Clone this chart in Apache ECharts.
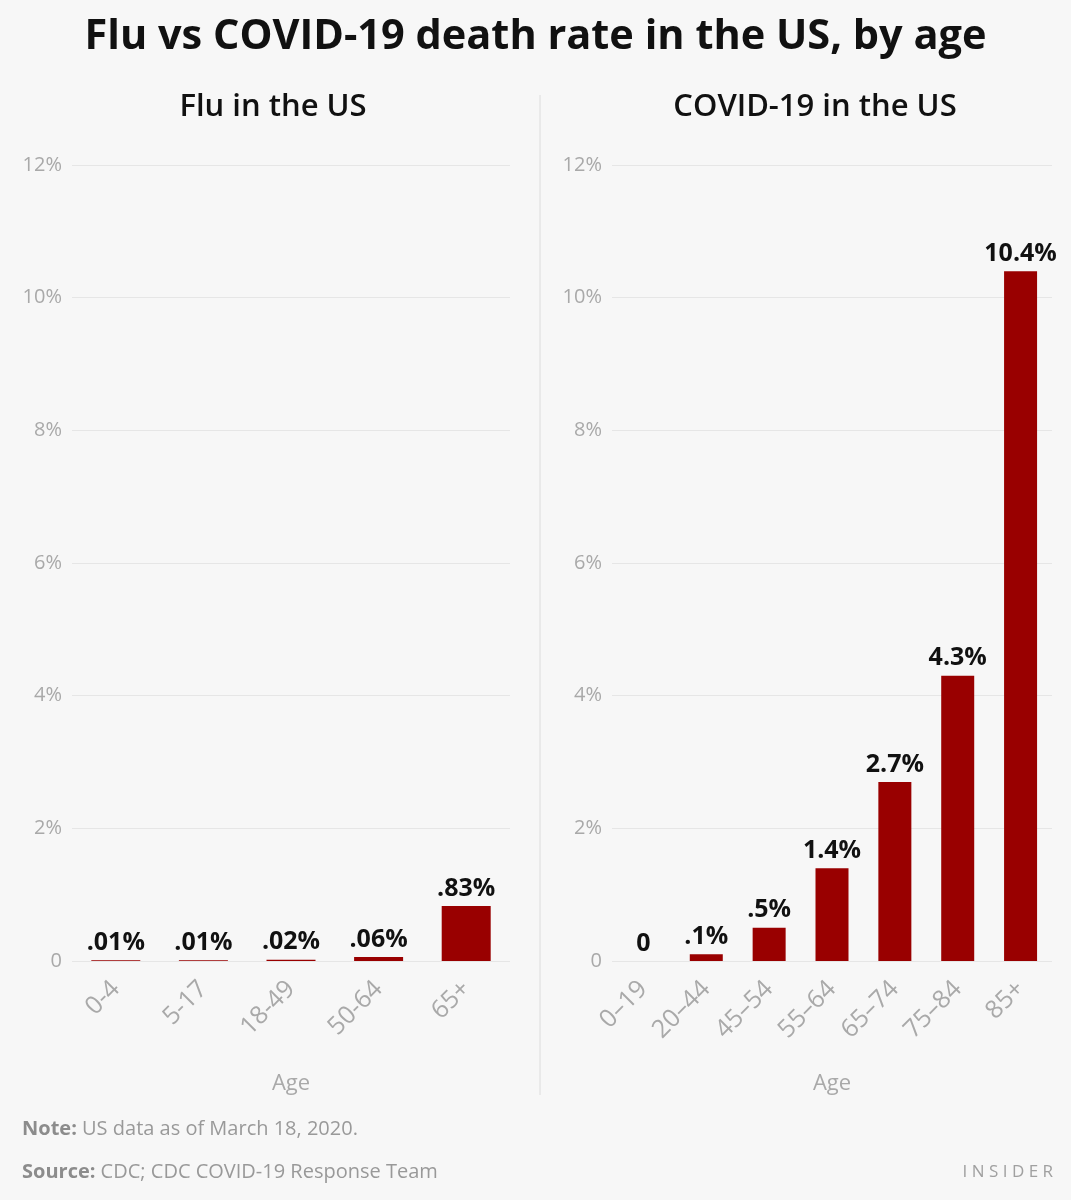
<!doctype html>
<html>
<head>
	<meta charset="utf-8">
	<style>
		html, body { margin: 0; padding: 0; background: #f7f7f7; }
		#chart { width: 1071px; height: 1200px; }
	</style>
</head>
<body>
	<div id="chart"></div>
</body>
<script src="https://cdn.jsdelivr.net/npm/echarts@6/dist/echarts.min.js"></script>
<script type="text/javascript">
	// data
	var fluAges = ['0-4', '5-17', '18-49', '50-64', '65+'];
	var fluRates = [0.01, 0.01, 0.02, 0.06, 0.83];
	var covidAges = ['0\u201319', '20\u201344', '45\u201354', '55\u201364', '65\u201374', '75\u201384', '85+'];
	var covidRates = [0, 0.1, 0.5, 1.4, 2.7, 4.3, 10.4];
	var yTicks = [0, 2, 4, 6, 8, 10, 12];

	var gray = '#a9a9a9';
	var barRed = '#990000';
	var font = '"Open Sans", Roboto, sans-serif';

	function pctLabel(p) {
		var v = p.value;
		if (v === 0) return '0';
		var s = String(v);
		if (v < 1) s = s.replace(/^0/, '');
		return s + '%';
	}

	function yAxisOf(idx) {
		return {
			gridIndex: idx,
			type: 'value',
			min: yTicks[0],
			max: yTicks[yTicks.length - 1],
			interval: 2,
			axisLine: { show: false },
			axisTick: { show: false },
			splitLine: { lineStyle: { color: '#e6e6e6', width: 1 } },
			axisLabel: {
				color: gray,
				fontFamily: font,
				fontSize: 20,
				margin: 10,
				formatter: function(v) { return v === 0 ? '0' : v + '%'; }
			}
		};
	}

	function xAxisOf(idx, cats) {
		return {
			gridIndex: idx,
			type: 'category',
			data: cats,
			axisLine: { show: false },
			axisTick: { show: false },
			axisLabel: {
				color: gray,
				fontFamily: font,
				fontSize: 25,
				rotate: 45,
				margin: 24,
				interval: 0
			},
			name: 'Age',
			nameLocation: 'middle',
			nameGap: 112,
			nameTextStyle: { color: gray, fontFamily: font, fontSize: 22 }
		};
	}

	function barSeries(idx, values, width) {
		return {
			type: 'bar',
			xAxisIndex: idx,
			yAxisIndex: idx,
			data: values,
			barWidth: width,
			itemStyle: { color: barRed },
			label: {
				show: true,
				position: 'top',
				distance: 5,
				color: '#111',
				fontFamily: font,
				fontWeight: 'bold',
				fontSize: 25,
				formatter: pctLabel
			}
		};
	}

	var myChart = echarts.init(document.getElementById('chart'));
	var option = {
		backgroundColor: '#f7f7f7',
		animation: false,
		title: [
			{
				text: 'Flu vs COVID-19 death rate in the US, by age',
				left: 'center',
				top: 11,
				textStyle: { color: '#111', fontFamily: font, fontWeight: 'bold', fontSize: 41.5 }
			},
			{
				text: 'Flu in the US',
				left: 268,
				top: 87,
				textAlign: 'center',
				textStyle: { color: '#111', fontFamily: font, fontWeight: 600, fontSize: 31 }
			},
			{
				text: 'COVID-19 in the US',
				left: 810,
				top: 87,
				textAlign: 'center',
				textStyle: { color: '#111', fontFamily: font, fontWeight: 600, fontSize: 31 }
			}
		],
		grid: [
			{ left: 72, right: 561, top: 165, bottom: 239 },
			{ left: 612, right: 19, top: 165, bottom: 239 }
		],
		xAxis: [xAxisOf(0, fluAges), xAxisOf(1, covidAges)],
		yAxis: [yAxisOf(0), yAxisOf(1)],
		series: [barSeries(0, fluRates, 49), barSeries(1, covidRates, 33)],
		graphic: [
			{
				type: 'line',
				shape: { x1: 540, y1: 95, x2: 540, y2: 1095 },
				style: { stroke: '#dcdcdc', lineWidth: 1 }
			},
			{
				type: 'text',
				left: 22,
				top: 1119,
				style: {
					rich: {
						b: { fontFamily: font, fontSize: 20, fontWeight: 'bold', fill: '#8c8c8c' },
						n: { fontFamily: font, fontSize: 20, fill: '#999' }
					},
					text: '{b|Note:}{n| US data as of March 18, 2020.}'
				}
			},
			{
				type: 'text',
				left: 22,
				top: 1162,
				style: {
					rich: {
						b: { fontFamily: font, fontSize: 20, fontWeight: 'bold', fill: '#8c8c8c' },
						n: { fontFamily: font, fontSize: 20, fill: '#999' }
					},
					text: '{b|Source:}{n| CDC; CDC COVID-19 Response Team}'
				}
			},
			{
				type: 'text',
				right: 18,
				top: 1164,
				style: {
					text: 'I N S I D E R',
					fontFamily: font,
					fontSize: 17,
					fill: '#a0a0a0'
				}
			}
		]
	};
	myChart.setOption(option);
</script>
</html>
